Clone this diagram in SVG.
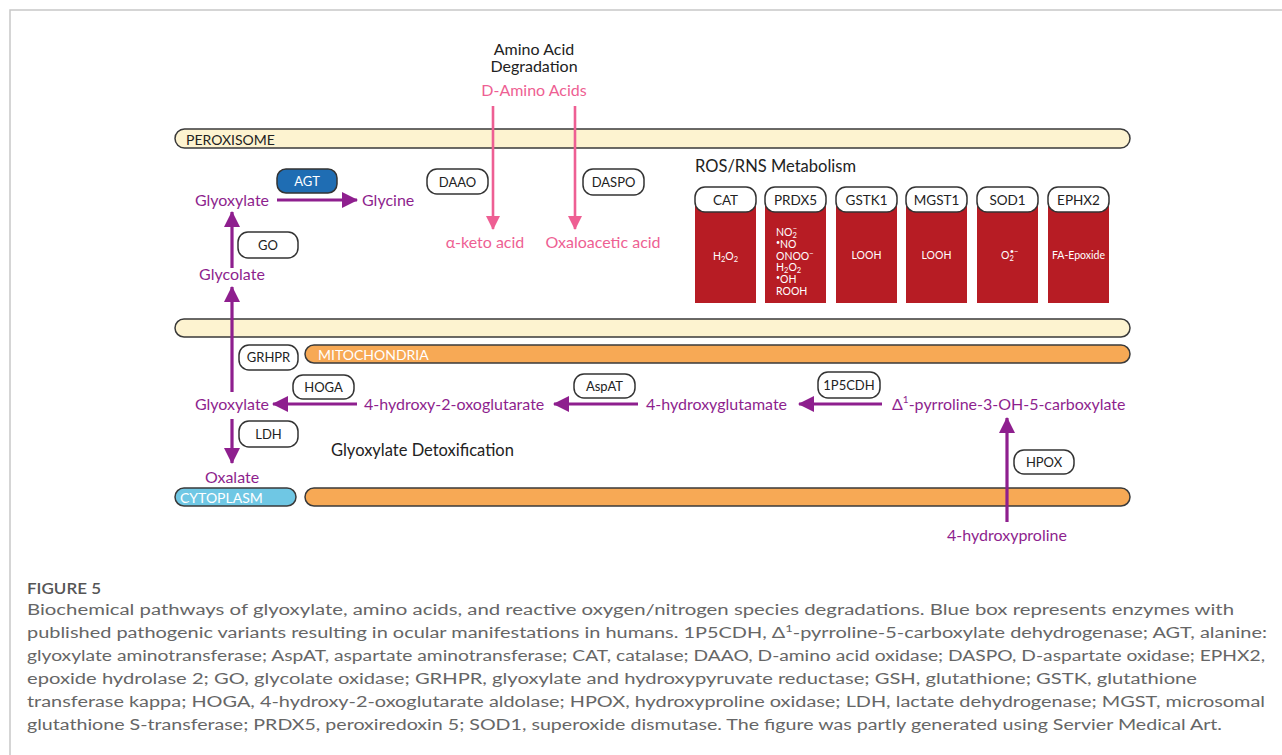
<svg xmlns="http://www.w3.org/2000/svg" width="1282" height="755" viewBox="0 0 1282 755">
<style>
text{font-family:Lato,"Open Sans","Liberation Sans",sans-serif}
.frame{fill:none;stroke:#c8c8c8;stroke-width:1.5}
.bar{stroke:#3a3a3a;stroke-width:1.5}
.cream{fill:#fdf3d0}
.orange{fill:#f7a955}
.blue{fill:#6fc7e4}
.barlbl{font-size:14px;fill:#222}
.barlblw{font-size:14px;fill:#fff}
.enz rect{fill:#fff;stroke:#333;stroke-width:1.5}
.enz text{font-size:13px;fill:#222;text-anchor:middle}
.pur{font-size:16px;fill:#8e1f8e}
.pink{font-size:16px;fill:#ee5f93}
.title{font-size:16.5px;fill:#222}
.ros rect.r{fill:#b71c24}
.ros rect.l{fill:#fff;stroke:#333;stroke-width:1.5}
.ros text.n{font-size:13.5px;fill:#222;text-anchor:middle}
.ros text.s{font-size:10.5px;fill:#fff}
.ap{stroke:#8e1f8e;stroke-width:3.2;fill:none}
.pk{stroke:#ee5f93;stroke-width:2.6;fill:none}
.cap{font-size:15.5px;fill:#666}
</style>
<defs>
<marker id="mp" markerUnits="userSpaceOnUse" markerWidth="16" markerHeight="16" refX="15" refY="8" orient="auto" viewBox="0 0 16 16"><path d="M0,0 L16,8 L0,16 z" fill="#8e1f8e"/></marker>
<marker id="mk" markerUnits="userSpaceOnUse" markerWidth="14" markerHeight="14" refX="13" refY="7" orient="auto" viewBox="0 0 14 14"><path d="M0,0 L14,7 L0,14 z" fill="#ee5f93"/></marker>
</defs>
<rect width="1282" height="755" fill="#fff"/>
<path class="frame" d="M10,755 V10 H1282"/>

<g id="compartments">
<rect class="bar cream" x="175" y="129" width="955" height="19" rx="9.5"/>
<text class="barlbl" x="186" y="144.5">PEROXISOME</text>
<rect class="bar cream" x="175" y="319" width="955" height="18" rx="9"/>
<rect class="bar orange" x="305" y="345" width="825" height="18" rx="9"/>
<text class="barlblw" x="318" y="359.5">MITOCHONDRIA</text>
<rect class="bar blue" x="175" y="488" width="121" height="18" rx="9"/>
<text class="barlblw" x="180" y="502.5">CYTOPLASM</text>
<rect class="bar orange" x="305" y="488" width="825" height="18" rx="9"/>
</g>

<g id="connectors">
<line class="ap" x1="277" y1="200" x2="357" y2="200" marker-end="url(#mp)"/>
<line class="ap" x1="232" y1="268" x2="232" y2="212" marker-end="url(#mp)"/>
<line class="ap" x1="232" y1="392" x2="232" y2="287" marker-end="url(#mp)"/>
<line class="ap" x1="357" y1="404" x2="273" y2="404" marker-end="url(#mp)"/>
<line class="ap" x1="638" y1="404" x2="554" y2="404" marker-end="url(#mp)"/>
<line class="ap" x1="882" y1="404" x2="799" y2="404" marker-end="url(#mp)"/>
<line class="ap" x1="232" y1="419" x2="232" y2="463" marker-end="url(#mp)"/>
<line class="ap" x1="1007" y1="522" x2="1007" y2="418" marker-end="url(#mp)"/>
<line class="pk" x1="493" y1="106" x2="493" y2="229" marker-end="url(#mk)"/>
<line class="pk" x1="575" y1="106" x2="575" y2="229" marker-end="url(#mk)"/>
</g>

<g id="amino-title">
<text x="534" y="55" font-size="16" fill="#222" text-anchor="middle">Amino Acid</text>
<text x="534" y="72" font-size="16" fill="#222" text-anchor="middle">Degradation</text>
</g>
<g id="d-amino-acids"><text class="pink" x="534" y="96" text-anchor="middle">D-Amino Acids</text></g>
<g id="alpha-keto"><text class="pink" x="485" y="248" text-anchor="middle">α-keto acid</text></g>
<g id="oxaloacetic"><text class="pink" x="603" y="248" text-anchor="middle">Oxaloacetic acid</text></g>

<g id="glyoxylate-perox"><text class="pur" x="232" y="206" text-anchor="middle">Glyoxylate</text></g>
<g id="glycine"><text class="pur" x="362" y="206">Glycine</text></g>
<g id="glycolate"><text class="pur" x="232" y="280" text-anchor="middle">Glycolate</text></g>
<g id="glyoxylate-mito"><text class="pur" x="232" y="410" text-anchor="middle">Glyoxylate</text></g>
<g id="hydroxyoxoglutarate"><text class="pur" x="364" y="410">4-hydroxy-2-oxoglutarate</text></g>
<g id="hydroxyglutamate"><text class="pur" x="646" y="410">4-hydroxyglutamate</text></g>
<g id="pyrroline"><text class="pur" x="892" y="410">Δ<tspan font-size="10" dy="-7">1</tspan><tspan dy="7">-pyrroline-3-OH-5-carboxylate</tspan></text></g>
<g id="oxalate"><text class="pur" x="232" y="483" text-anchor="middle">Oxalate</text></g>
<g id="hydroxyproline"><text class="pur" x="1007" y="541" text-anchor="middle">4-hydroxyproline</text></g>
<g id="detox-title"><text class="title" x="331" y="456">Glyoxylate Detoxification</text></g>

<g id="AGT"><rect x="277" y="169" width="60" height="24" rx="9" fill="#1f6db3" stroke="#333" stroke-width="1.5"/><text x="307" y="186" font-size="13" fill="#fff" text-anchor="middle">AGT</text></g>
<g id="GO" class="enz"><rect x="238" y="232" width="60" height="26" rx="10"/><text x="268" y="250">GO</text></g>
<g id="DAAO" class="enz"><rect x="427" y="169" width="61" height="25" rx="10"/><text x="457.5" y="186.5">DAAO</text></g>
<g id="DASPO" class="enz"><rect x="583" y="169" width="61" height="26" rx="10"/><text x="613.5" y="187">DASPO</text></g>
<g id="GRHPR" class="enz"><rect x="239" y="345" width="59" height="25" rx="10"/><text x="268.5" y="362">GRHPR</text></g>
<g id="HOGA" class="enz"><rect x="293" y="375" width="61" height="24" rx="10"/><text x="323.5" y="392">HOGA</text></g>
<g id="AspAT" class="enz"><rect x="574" y="374" width="61" height="24" rx="10"/><text x="604.5" y="391">AspAT</text></g>
<g id="P5CDH" class="enz"><rect x="818" y="372" width="62" height="26" rx="10"/><text x="849" y="390">1P5CDH</text></g>
<g id="LDH" class="enz"><rect x="239" y="421" width="59" height="26" rx="10"/><text x="268.5" y="439">LDH</text></g>
<g id="HPOX" class="enz"><rect x="1014" y="450" width="60" height="24" rx="10"/><text x="1044" y="467">HPOX</text></g>

<g id="ros-title"><text class="title" x="695" y="172">ROS/RNS Metabolism</text></g>
<g id="CAT" class="ros"><rect class="r" x="695" y="199" width="61" height="104"/><rect class="l" x="695" y="187" width="61" height="25" rx="10"/><text class="n" x="725.5" y="205">CAT</text><text class="s" x="725.5" y="260" text-anchor="middle">H<tspan font-size="7.5" dy="2">2</tspan><tspan dy="-2">O</tspan><tspan font-size="7.5" dy="2">2</tspan></text></g>
<g id="PRDX5" class="ros"><rect class="r" x="765" y="199" width="61" height="104"/><rect class="l" x="765" y="187" width="61" height="25" rx="10"/><text class="n" x="795.5" y="205">PRDX5</text>
<text class="s" x="776" y="236">NO<tspan font-size="7.5" dy="2">2</tspan><tspan font-size="7.5" dx="-4" dy="-7">−</tspan></text>
<text class="s" x="776" y="248"><tspan font-size="7" dy="-3">•</tspan><tspan dy="3">NO</tspan></text>
<text class="s" x="776" y="260">ONOO<tspan font-size="7.5" dy="-4">−</tspan></text>
<text class="s" x="776" y="271">H<tspan font-size="7.5" dy="2">2</tspan><tspan dy="-2">O</tspan><tspan font-size="7.5" dy="2">2</tspan></text>
<text class="s" x="776" y="283"><tspan font-size="7" dy="-3">•</tspan><tspan dy="3">OH</tspan></text>
<text class="s" x="776" y="295">ROOH</text></g>
<g id="GSTK1" class="ros"><rect class="r" x="836" y="199" width="61" height="104"/><rect class="l" x="836" y="187" width="61" height="25" rx="10"/><text class="n" x="866.5" y="205">GSTK1</text><text class="s" x="866.5" y="259" text-anchor="middle">LOOH</text></g>
<g id="MGST1" class="ros"><rect class="r" x="906" y="199" width="61" height="104"/><rect class="l" x="906" y="187" width="61" height="25" rx="10"/><text class="n" x="936.5" y="205">MGST1</text><text class="s" x="936.5" y="259" text-anchor="middle">LOOH</text></g>
<g id="SOD1" class="ros"><rect class="r" x="977" y="199" width="61" height="104"/><rect class="l" x="977" y="187" width="61" height="25" rx="10"/><text class="n" x="1007.5" y="205">SOD1</text><text class="s" x="1001" y="259">O<tspan font-size="7.5" dy="2">2</tspan><tspan font-size="7.5" dx="-4" dy="-7">•−</tspan></text></g>
<g id="EPHX2" class="ros"><rect class="r" x="1048" y="199" width="61" height="104"/><rect class="l" x="1048" y="187" width="61" height="25" rx="10"/><text class="n" x="1078.5" y="205">EPHX2</text><text class="s" x="1078.5" y="259" text-anchor="middle">FA-Epoxide</text></g>

<g id="caption">
<text x="27" y="594" font-size="15" fill="#555" font-weight="600" textLength="74" lengthAdjust="spacingAndGlyphs">FIGURE 5</text>
<text class="cap" x="27" y="615" textLength="1207" lengthAdjust="spacingAndGlyphs">Biochemical pathways of glyoxylate, amino acids, and reactive oxygen/nitrogen species degradations. Blue box represents enzymes with</text>
<text class="cap" x="27" y="638" textLength="1240" lengthAdjust="spacingAndGlyphs">published pathogenic variants resulting in ocular manifestations in humans. 1P5CDH, Δ<tspan font-size="10" dy="-6">1</tspan><tspan dy="6">-pyrroline-5-carboxylate dehydrogenase; AGT, alanine:</tspan></text>
<text class="cap" x="27" y="661" textLength="1238" lengthAdjust="spacingAndGlyphs">glyoxylate aminotransferase; AspAT, aspartate aminotransferase; CAT, catalase; DAAO, D-amino acid oxidase; DASPO, D-aspartate oxidase; EPHX2,</text>
<text class="cap" x="27" y="684" textLength="1170" lengthAdjust="spacingAndGlyphs">epoxide hydrolase 2; GO, glycolate oxidase; GRHPR, glyoxylate and hydroxypyruvate reductase; GSH, glutathione; GSTK, glutathione</text>
<text class="cap" x="27" y="707" textLength="1238" lengthAdjust="spacingAndGlyphs">transferase kappa; HOGA, 4-hydroxy-2-oxoglutarate aldolase; HPOX, hydroxyproline oxidase; LDH, lactate dehydrogenase; MGST, microsomal</text>
<text class="cap" x="27" y="730" textLength="1195" lengthAdjust="spacingAndGlyphs">glutathione S-transferase; PRDX5, peroxiredoxin 5; SOD1, superoxide dismutase. The figure was partly generated using Servier Medical Art.</text>
</g>
</svg>
